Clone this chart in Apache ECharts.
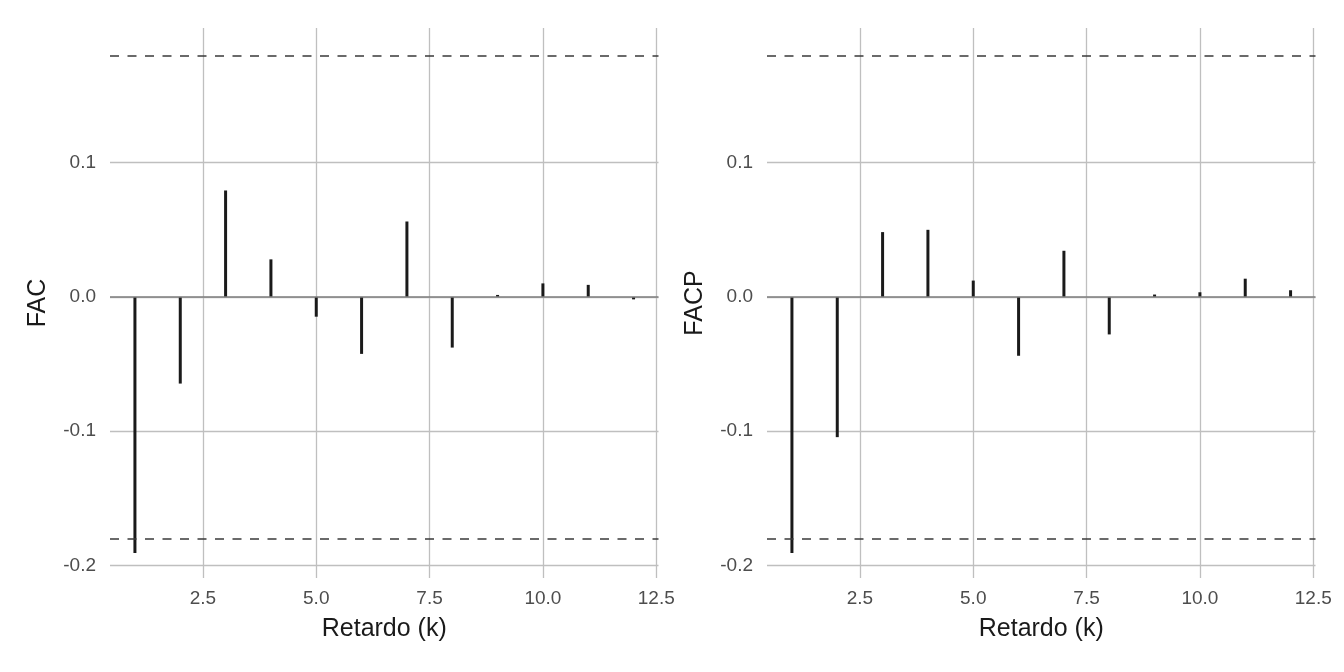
<!DOCTYPE html>
<html>
<head>
<meta charset="utf-8">
<script src="https://cdn.jsdelivr.net/npm/echarts@6/dist/echarts.min.js"></script>
<style>
html,body{margin:0;padding:0;background:#fff;}
#chart{width:1344px;height:672px;}
</style>
</head>
<body>
<div id="chart"></div>
<script>
// ---- data ----
const lags = [1, 2, 3, 4, 5, 6, 7, 8, 9, 10, 11, 12];
const fac  = [-0.1906, -0.0645, 0.0793, 0.0280, -0.0147, -0.0424, 0.0562, -0.0377, 0.0015, 0.0101, 0.0090, -0.0018];
const facp = [-0.1906, -0.1044, 0.0483, 0.0500, 0.0122, -0.0438, 0.0344, -0.0279, 0.0018, 0.0035, 0.0136, 0.0050];
const ciBound = 0.1818;
const xTicks = [2.5, 5.0, 7.5, 10.0, 12.5];
const yTicks = [-0.2, -0.1, 0.0, 0.1];
const panelTitles = ['FAC', 'FACP'];
const xTitle = 'Retardo (k)';

const FONT = '"Liberation Sans", Arial, Helvetica, sans-serif';
const chart = echarts.init(document.getElementById('chart'));

const grids = [
  {left: 110, width: 548.5, top: 28, height: 550},
  {left: 767, width: 548.5, top: 28, height: 550}
];

function xAxisFor(i){
  return {
    type: 'value', gridIndex: i, min: 0.45, max: 12.55,
    axisLine: {show: false},
    axisTick: {show: false, customValues: xTicks},
    axisLabel: {customValues: xTicks, formatter: v => v.toFixed(1), color: '#4d4d4d',
                fontSize: 19, fontFamily: FONT, margin: 11},
    splitLine: {show: true, lineStyle: {color: '#bfbfbf', width: 1.3}},
    name: xTitle, nameLocation: 'middle', nameGap: 39,
    nameTextStyle: {fontSize: 25, color: '#1a1a1a', fontFamily: FONT}
  };
}
function yAxisFor(i){
  return {
    type: 'value', gridIndex: i, min: -0.2093, max: 0.2003,
    axisLine: {show: false},
    axisTick: {show: false, customValues: yTicks},
    axisLabel: {customValues: yTicks, formatter: v => v.toFixed(1), color: '#4d4d4d',
                fontSize: 19, fontFamily: FONT, margin: 14},
    splitLine: {show: true, lineStyle: {color: '#bfbfbf', width: 1.3}},
    name: panelTitles[i], nameLocation: 'middle', nameGap: 59,
    nameTextStyle: {fontSize: 25, color: '#1a1a1a', fontFamily: FONT}
  };
}

function refLines(i){
  return {
    type: 'line', xAxisIndex: i, yAxisIndex: i, data: [], z: 1, silent: true,
    markLine: {
      silent: true, symbol: 'none', animation: false,
      label: {show: false},
      data: [
        {yAxis: 0, lineStyle: {color: '#7f7f7f', type: 'solid', width: 1.6}},
        {yAxis: ciBound, lineStyle: {color: '#3a3a3a', type: [9, 8.5], width: 1.7}},
        {yAxis: -ciBound, lineStyle: {color: '#3a3a3a', type: [9, 8.5], width: 1.7}}
      ]
    }
  };
}
function spikes(i, vals){
  return {
    type: 'bar', xAxisIndex: i, yAxisIndex: i, z: 3,
    barWidth: 3,
    itemStyle: {color: '#1a1a1a'},
    data: lags.map((l, k) => [l, vals[k]])
  };
}

chart.setOption({
  animation: false,
  backgroundColor: '#ffffff',
  grid: grids,
  xAxis: [xAxisFor(0), xAxisFor(1)],
  yAxis: [yAxisFor(0), yAxisFor(1)],
  series: [refLines(0), spikes(0, fac), refLines(1), spikes(1, facp)]
});
</script>
</body>
</html>
